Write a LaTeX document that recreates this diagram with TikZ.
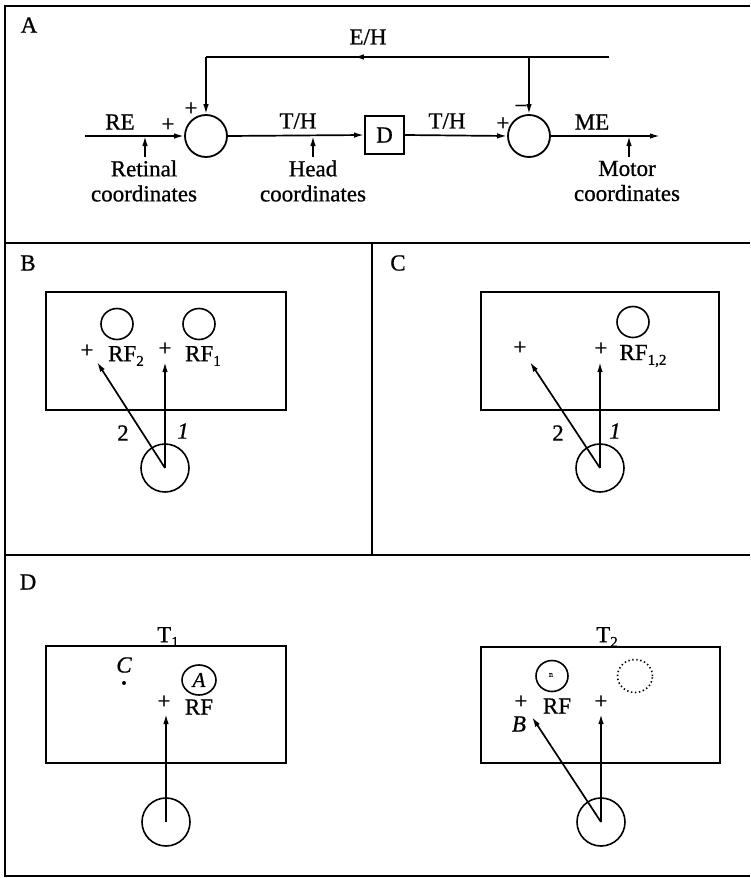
\documentclass[tikz,border=0pt]{standalone}
\usepackage{fontspec}
\setmainfont{Liberation Serif}[FakeBold=0.8]
\usetikzlibrary{arrows.meta,shapes.geometric,decorations.markings,calc}
\newcommand\mysub[1]{\raisebox{-0.45ex}{\fontsize{15}{15}\selectfont #1}}
\begin{document}
\begin{tikzpicture}[x=1pt,y=-1pt,
  lbl/.style={font=\fontsize{23}{25}\selectfont, inner sep=0pt},
  arr/.style={-{Latex[length=10pt,width=5.5pt]}},
  frame/.style={line width=2pt},
  ln/.style={line width=1.7pt},
  sum/.style={circle, draw, line width=1.8pt, minimum size=42pt, inner sep=0pt},
  eye/.style={circle, draw, line width=1.6pt, minimum size=48pt, inner sep=0pt},
  rf/.style={ellipse, draw, line width=1.6pt, minimum width=32pt, minimum height=31pt, inner sep=0pt},
  screen/.style={draw, line width=1.8pt, inner sep=0pt},
  dbox/.style={draw, line width=1.8pt, minimum width=39pt, minimum height=38pt, inner sep=0pt, font=\fontsize{23}{25}\selectfont}
]
\useasboundingbox (0,0) rectangle (750,878);
% frame
\draw[frame] (750,6) -- (5,6) -- (5,876) -- (750,876);
\draw[frame] (5,243) -- (750,243);
\draw[frame] (5,555) -- (750,555);
\draw[frame] (372,243) -- (372,555);

% ---------- Panel A ----------
\node[lbl] (lA) at (29,25) {A};
\node[lbl] (eh) at (368,37) {E/H};
\node[sum] (s1) at (206,136) {};
\node[sum] (s2) at (529,136) {};
\node[dbox] (D) at (384.5,135) {D};
\coordinate (in) at (85,136);
\coordinate (out) at (660,136);
\draw[ln,arr] (in) -- (s1.west);
\draw[ln,arr] (s1.east) -- (D.west);
\draw[ln,arr] (D.east) -- (s2.west);
\draw[ln,arr] (s2.east) -- (out);
\coordinate (fbR) at (609,57);
\coordinate (fbL) at (206,57);
\coordinate (fbM) at (529,57);
\draw[ln, postaction={decorate}, decoration={markings, mark=at position 0.633 with {\arrow{Latex[length=10pt,width=5.5pt]}}}] (fbR) -- (fbL);
\draw[ln,arr] (fbL) -- (s1.north);
\draw[ln,arr] (fbM) -- (s2.north);
\node[lbl] (re) at (120,122) {RE};
\node[lbl] (p1) at (168,125) {+};
\node[lbl] (p2) at (191,109) {+};
\node[lbl] (th1) at (298,121) {T/H};
\node[lbl] (th2) at (447,121) {T/H};
\node[lbl] (p3) at (503,124) {+};
\node[lbl] (m1) at (521,109) {\char"2212};
\node[lbl] (me) at (592,122) {ME};
\coordinate (q1) at (145,157);
\coordinate (q2) at (313,157);
\coordinate (q3) at (629,157);
\draw[ln,arr] (q1) -- (q1 |- in);
\draw[ln,arr] (q2) -- (q2 |- in);
\draw[ln,arr] (q3) -- (q3 |- in);
\node[lbl, align=center] (tr) at (144,181) {Retinal\\coordinates};
\node[lbl, align=center] (th) at (313,181) {Head\\coordinates};
\node[lbl, align=center] (tm) at (627,181) {Motor\\coordinates};

% ---------- Panel B ----------
\node[lbl] (lB) at (28,263) {B};
\node[screen, minimum width=240pt, minimum height=118pt] (scrB) at (166,351) {};
\node[rf] (rf2) at (117,324) {};
\node[rf] (rf1) at (199,324) {};
\node[lbl] (pB2) at (87,351) {+};
\node[lbl] (nB2) at (126,356) {RF\mysub{2}};
\node[lbl] (pB1) at (165,349) {+};
\node[lbl] (nB1) at (203,356) {RF\mysub{1}};
\node[eye] (eyeB) at (165,468) {};
\coordinate (tB1) at (165,362);
\coordinate (tB2) at (97,362);
\draw[ln,arr] (eyeB.center) -- (tB1);
\draw[ln,arr] (eyeB.center) -- (tB2);
\node[lbl] (kB1) at (183,431) {\itshape 1};
\node[lbl] (kB2) at (123,433) {2};

% ---------- Panel C ----------
\node[lbl] (lC) at (398,263) {C};
\node[screen, minimum width=238pt, minimum height=118pt] (scrC) at (600,351) {};
\node[rf] (rfC) at (633,322) {};
\node[lbl] (pC2) at (520,348) {+};
\node[lbl] (pC1) at (601,349) {+};
\node[lbl] (nC) at (643,356) {RF\mysub{1,2}};
\node[eye] (eyeC) at (600,468) {};
\coordinate (tC1) at (600,362);
\coordinate (tC2) at (530,362);
\draw[ln,arr] (eyeC.center) -- (tC1);
\draw[ln,arr] (eyeC.center) -- (tC2);
\node[lbl] (kC1) at (615,431) {\itshape 1};
\node[lbl] (kC2) at (558,433) {2};

% ---------- Panel D ----------
\node[lbl] (lD) at (28,582) {D};
% T1
\node[lbl] (T1) at (168,637) {T\mysub{1}};
\node[screen, minimum width=240pt, minimum height=117pt] (scrT1) at (166,704.5) {};
\node[lbl] (cC) at (124,665) {\itshape C};
\node[circle, fill, inner sep=0pt, minimum size=4pt] (dotC) at (124,683) {};
\node[rf, minimum width=34pt, minimum height=30pt, font=\fontsize{21}{22}\selectfont\itshape] (rfA) at (199,680) {A};
\node[lbl] (pT1) at (164,702) {+};
\node[lbl] (nT1) at (199,707) {RF};
\node[eye] (eyeT1) at (166,822) {};
\coordinate (tT1) at (166,714);
\draw[ln,arr] (eyeT1.center) -- (tT1);
% T2
\node[lbl] (T2) at (607,637) {T\mysub{2}};
\node[screen, minimum width=239pt, minimum height=116pt] (scrT2) at (600.5,705) {};
\node[rf] (rfT2) at (552,676) {};
\node[inner sep=0pt, font=\fontsize{8}{8}\selectfont] (mk) at (551,675) {n};
\node[ellipse, draw, line width=1.6pt, dash pattern=on 1.4pt off 2.6pt, minimum width=35pt, minimum height=33pt, inner sep=0pt] (ghost) at (635,676) {};
\node[lbl] (pT2a) at (521,702) {+};
\node[lbl] (nT2) at (557,706) {RF};
\node[lbl] (pT2b) at (601,702) {+};
\node[lbl] (bB) at (519,724) {\itshape B};
\node[eye] (eyeT2) at (601,822) {};
\coordinate (tT2a) at (601,714);
\coordinate (tT2b) at (532,717);
\draw[ln,arr] (eyeT2.center) -- (tT2a);
\draw[ln,arr] (eyeT2.center) -- (tT2b);
\end{tikzpicture}
\end{document}
